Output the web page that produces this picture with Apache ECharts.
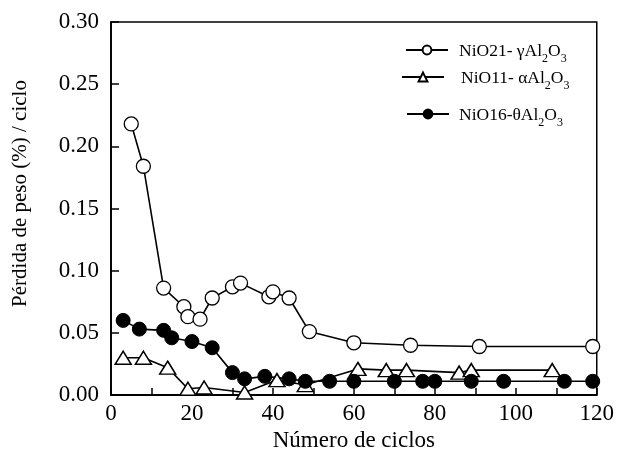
<!DOCTYPE html>
<html>
<head>
<meta charset="utf-8">
<script src="https://cdn.jsdelivr.net/npm/echarts@6/dist/echarts.min.js"></script>
<style>
  html, body { margin: 0; padding: 0; background: #fff; }
  #chart { width: 617px; height: 462px; }
</style>
</head>
<body>
<div id="chart"></div>
<script>
// ciclo, pérdida de peso (%) / ciclo
const gammaData = [
  [5, 0.218], [8, 0.184], [13, 0.086], [18, 0.071], [19, 0.063], [22, 0.061],
  [25, 0.078], [30, 0.087], [32, 0.090], [39, 0.079], [40, 0.083], [44, 0.078],
  [49, 0.051], [60, 0.042], [74, 0.040], [91, 0.039], [119, 0.039],
];
const alphaData = [
  [3, 0.030], [8, 0.030], [14, 0.022], [19, 0.005], [23, 0.006], [33, 0.002],
  [41, 0.012], [48, 0.008], [61, 0.021], [68, 0.020], [73, 0.020], [86, 0.018],
  [89, 0.020], [109, 0.020],
];
const thetaData = [
  [3, 0.060], [7, 0.053], [13, 0.052], [15, 0.046], [20, 0.043], [25, 0.038],
  [30, 0.018], [33, 0.013], [38, 0.015], [44, 0.013], [48, 0.011], [54, 0.011],
  [60, 0.011], [70, 0.011], [77, 0.011], [80, 0.011], [89, 0.011], [97, 0.011],
  [112, 0.011], [119, 0.011],
];
const seriesNames = ["NiO21- γAl2O3", "NiO11- αAl2O3", "NiO16-θAl2O3"];
const legendLabels = [
  "{n|NiO21- γAl}{s|2}{n|O}{s|3}",
  "{n|NiO11- αAl}{s|2}{n|O}{s|3}",
  "{n|NiO16-θAl}{s|2}{n|O}{s|3}",
];

const FONT = "Liberation Serif";
const chart = echarts.init(document.getElementById("chart"));

const makeLegend = (i, left, top, textPad) => ({
  data: [seriesNames[i]],
  left: left,
  top: top,
  itemWidth: 42,
  itemHeight: 11,
  formatter: () => legendLabels[i],
  textStyle: {
    color: "#000",
    fontFamily: FONT,
    padding: [0, 0, 0, textPad],
    rich: {
      n: { fontFamily: FONT, fontSize: 17.5, color: "#000", verticalAlign: "bottom", lineHeight: 20 },
      s: { fontFamily: FONT, fontSize: 12, color: "#000", verticalAlign: "bottom", lineHeight: 14, padding: [0, 0, -5, 0] },
    },
  },
  selectedMode: false,
});

const lineBase = {
  type: "line",
  lineStyle: { color: "#000", width: 1.6 },
  symbolSize: 14,
  z: 3,
  animation: false,
};

const option = {
  backgroundColor: "#fff",
  legend: [
    makeLegend(0, 400, 37, 6),
    makeLegend(1, 396, 64, 12),
    makeLegend(2, 401, 101, 5),
  ],
  grid: {
    left: 111,
    right: 18,
    top: 22,
    bottom: 67,
    show: true,
    borderColor: "#000",
    borderWidth: 1.5,
  },
  xAxis: {
    type: "value",
    min: 0,
    max: 120,
    interval: 10,
    name: "Número de ciclos",
    nameLocation: "middle",
    nameGap: 23,
    nameTextStyle: { fontFamily: FONT, fontSize: 23, color: "#000" },
    axisLine: { lineStyle: { color: "#000", width: 1.8 } },
    axisTick: { inside: true, length: 7, lineStyle: { color: "#000", width: 1.5 } },
    axisLabel: {
      margin: 7,
      fontFamily: FONT,
      fontSize: 23,
      color: "#000",
      formatter: (v) => (v % 20 === 0 ? String(v) : ""),
    },
    splitLine: { show: false },
  },
  yAxis: {
    type: "value",
    min: 0,
    max: 0.3,
    interval: 0.05,
    name: "Pérdida de peso (%) / ciclo",
    nameLocation: "middle",
    nameGap: 80,
    nameTextStyle: { fontFamily: FONT, fontSize: 21, color: "#000", padding: [0, 0, 0, 30] },
    axisLine: { lineStyle: { color: "#000", width: 1.8 } },
    axisTick: { inside: true, length: 8, lineStyle: { color: "#000", width: 1.5 } },
    axisLabel: {
      margin: 12,
      fontFamily: FONT,
      fontSize: 23,
      color: "#000",
      formatter: (v) => v.toFixed(2),
    },
    splitLine: { show: false },
  },
  series: [
    {
      ...lineBase,
      name: seriesNames[0],
      data: gammaData,
      symbol: "circle",
      itemStyle: { color: "#fff", borderColor: "#000", borderWidth: 1.3 },
    },
    {
      ...lineBase,
      name: seriesNames[1],
      data: alphaData,
      symbol: "triangle",
      symbolSize: [16, 13],
      itemStyle: { color: "#fff", borderColor: "#000", borderWidth: 1.5 },
    },
    {
      ...lineBase,
      name: seriesNames[2],
      data: thetaData,
      symbol: "circle",
      itemStyle: { color: "#000", borderColor: "#000", borderWidth: 1 },
    },
  ],
};

chart.setOption(option);
</script>
</body>
</html>
